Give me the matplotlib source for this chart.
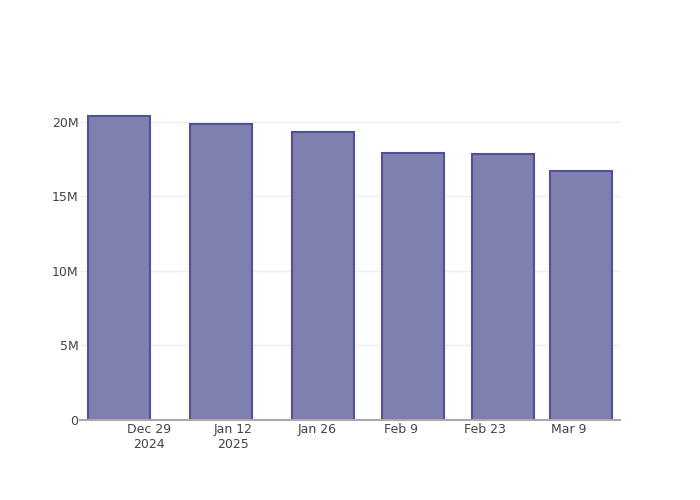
import matplotlib
matplotlib.use("Agg")
import matplotlib.pyplot as plt
import matplotlib.dates as mdates
import numpy as np
import pandas as pd

dates = ["2024-12-24", "2025-01-10", "2025-01-27", "2025-02-11", "2025-02-26", "2025-03-11"]
values = [20.40e6, 19.85e6, 19.31e6, 17.92e6, 17.81e6, 16.71e6]
xtick_dates = ["2024-12-29", "2025-01-12", "2025-01-26", "2025-02-09", "2025-02-23", "2025-03-09"]
xtick_labels = ["Dec 29\n2024", "Jan 12\n2025", "Jan 26", "Feb 9", "Feb 23", "Mar 9"]
ytick_vals = [0, 5e6, 10e6, 15e6, 20e6]
ytick_labels = ["0", "5M", "10M", "15M", "20M"]

x = pd.to_datetime(dates)
xn = mdates.date2num(x)
width = 0.8 * np.min(np.diff(xn))

fig = plt.figure(figsize=(7, 5), dpi=100)
ax = fig.add_axes([80/700, 80/500, 540/700, 320/500])

ax.bar(xn, values, width=width, color="#7f7fb0", edgecolor="#51519a", linewidth=1.5, zorder=3)

ax.set_xlim(mdates.date2num(pd.Timestamp("2024-12-17 12:00")), mdates.date2num(pd.Timestamp("2025-03-17 12:00")))
ax.set_ylim(0, 21.45e6)

ax.set_xticks(mdates.date2num(pd.to_datetime(xtick_dates)))
ax.set_xticklabels(xtick_labels, color="#444444", fontsize=9, linespacing=1.25)
ax.set_yticks(ytick_vals)
ax.set_yticklabels(ytick_labels, color="#444444", fontsize=9)
ax.tick_params(axis="both", length=0)
ax.tick_params(axis="x", pad=2)
ax.tick_params(axis="y", pad=1)

ax.grid(axis="y", color="#eeeeee", linewidth=1, zorder=0)
for s in ["top", "right", "left"]:
    ax.spines[s].set_visible(False)
ax.spines["bottom"].set_color("#aaaaaa")
ax.spines["bottom"].set_linewidth(1.5)
ax.spines["bottom"].set_zorder(4)

fig.savefig("out.png", dpi=100)
